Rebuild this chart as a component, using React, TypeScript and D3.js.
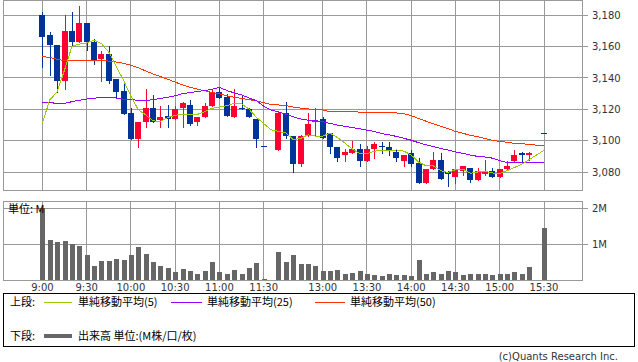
import React from "react";
import * as d3 from "d3";

const W = 638;
const H = 362;

// time slots: 9:00-11:30 (5 min), lunch gap, 12:30-15:30
const morningTimes: string[] = [];
for (let m = 9 * 60; m <= 11 * 60 + 30; m += 5) morningTimes.push(`${Math.floor(m / 60)}:${String(m % 60).padStart(2, "0")}`);
const afternoonTimes: string[] = [];
for (let m = 12 * 60 + 30; m <= 15 * 60 + 30; m += 5) afternoonTimes.push(`${Math.floor(m / 60)}:${String(m % 60).padStart(2, "0")}`);
const times: string[] = [...morningTimes, "", ...afternoonTimes];

const openP: (number | null)[] = [
  3180, 3167, 3161, 3138, 3170, 3163, 3175, 3163, 3152, 3155, 3139, 3132, 3118, 3101, 3112, 3121, 3113, 3116, 3114, 3121,
  3123, 3112, 3115, 3122, 3131, 3128, 3115, 3121, 3120, 3114, 3097, null, 3094, 3118, 3103, 3085, 3103, 3112, 3114, 3105,
  3096, 3091, 3092, 3095, 3087, 3095, 3097, 3096, 3093, 3087, 3092, 3086, 3073, 3082, 3088, 3080, 3077, 3081, 3083, 3075,
  3079, 3081, 3077, 3082, 3087, 3092, 3091, null, 3105,
];
const closeP: (number | null)[] = [
  3166, 3161, 3138, 3170, 3163, 3175, 3163, 3151, 3155, 3138, 3131, 3117, 3101, 3112, 3121, 3112, 3115, 3114, 3120, 3124,
  3111, 3115, 3122, 3131, 3127, 3116, 3122, 3120, 3115, 3101, 3097, null, 3118, 3103, 3085, 3103, 3111, 3113, 3102, 3096,
  3089, 3093, 3095, 3087, 3095, 3098, 3096, 3094, 3089, 3091, 3085, 3073, 3082, 3088, 3076, 3079, 3082, 3084, 3075, 3081,
  3081, 3077, 3082, 3084, 3091, 3091, 3092, null, 3105,
];
const highP: (number | null)[] = [
  3182, 3169, 3161, 3180, 3182, 3186, 3175, 3165, 3157, 3160, 3139, 3138, 3121, 3112, 3133, 3129, 3122, 3123, 3122, 3125,
  3126, 3115, 3124, 3133, 3134, 3130, 3133, 3129, 3121, 3114, 3097, null, 3119, 3125, 3103, 3104, 3118, 3121, 3115, 3105,
  3096, 3095, 3100, 3098, 3097, 3099, 3099, 3099, 3095, 3091, 3094, 3089, 3082, 3093, 3092, 3081, 3082, 3084, 3083, 3083,
  3088, 3083, 3082, 3087, 3094, 3093, 3093, null, 3105,
];
const lowP: (number | null)[] = [
  3147, 3142, 3131, 3133, 3161, 3163, 3158, 3149, 3138, 3137, 3127, 3117, 3101, 3096, 3109, 3112, 3109, 3109, 3114, 3109,
  3110, 3110, 3115, 3122, 3127, 3116, 3115, 3120, 3115, 3096, 3097, null, 3094, 3102, 3080, 3084, 3103, 3104, 3102, 3092,
  3087, 3087, 3092, 3084, 3087, 3089, 3092, 3091, 3087, 3084, 3084, 3073, 3073, 3082, 3076, 3071, 3073, 3078, 3074, 3075,
  3078, 3077, 3077, 3082, 3087, 3087, 3088, null, 3105,
];
// volume in millions
const volume: (number | null)[] = [
  2.02, 1.11, 1.06, 1.08, 1.0, 0.94, 0.69, 0.39, 0.53, 0.53, 0.58, 0.56, 0.69, 0.92, 0.72, 0.5, 0.39, 0.33, 0.22, 0.31,
  0.25, 0.17, 0.25, 0.5, 0.22, 0.17, 0.28, 0.17, 0.33, 0.47, 0.03, null, 0.78, 0.5, 0.69, 0.44, 0.44, 0.39, 0.25, 0.25,
  0.28, 0.17, 0.19, 0.25, 0.17, 0.14, 0.11, 0.17, 0.14, 0.14, 0.11, 0.56, 0.17, 0.22, 0.17, 0.25, 0.22, 0.14, 0.17, 0.17,
  0.17, 0.14, 0.17, 0.17, 0.22, 0.17, 0.36, null, 1.44,
];
const ma5: number[] = [
  3111.5, 3126, 3131.2, 3145, 3160, 3161.5, 3162.2, 3164, 3161.8, 3156.5, 3147.3, 3138.5, 3128.3, 3119.8, 3116.5, 3112.7,
  3112.3, 3114.8, 3116.3, 3116.9, 3116.8, 3116.8, 3118.5, 3120.7, 3121.4, 3122.4, 3123.8, 3123.5, 3120.2, 3115, 3111,
  3107, 3106, 3105, 3100.8, 3101.5, 3103.8, 3103, 3103, 3104.9, 3102.1, 3098.6, 3094.9, 3091.9, 3091.7, 3093.4, 3094,
  3093.8, 3094.2, 3093.5, 3091, 3086.5, 3084.2, 3084.1, 3081.1, 3079.9, 3081.7, 3082.1, 3079.4, 3080.2, 3080.6, 3079.6,
  3079.2, 3081.1, 3083.1, 3085.1, 3088.1, 3091, 3094,
];
const ma25: number[] = [
  3124.5, 3124.3, 3123.8, 3123.8, 3124.9, 3125.8, 3126.6, 3127, 3127.7, 3127.7, 3127.2, 3126.4, 3126.2, 3125.8, 3125.6,
  3126.2, 3127, 3127.7, 3128.6, 3130, 3130.7, 3131.3, 3132, 3132.8, 3134, 3132, 3130.5, 3129.2, 3127.3, 3125.5, 3122,
  3119.5, 3118.5, 3117, 3115.3, 3113.9, 3113.2, 3112.9, 3112.1, 3111.1, 3110, 3109.2, 3108.4, 3107.7, 3106.8, 3106,
  3104.6, 3103.8, 3102.8, 3101.6, 3100.4, 3098.8, 3097.5, 3096.3, 3095.2, 3094.1, 3093, 3092, 3091, 3090.1, 3089.7, 3089,
  3087.4, 3086.1, 3086.1, 3086.1, 3086.1, 3086.2, 3086.3,
];
const ma50: number[] = [
  3153.5, 3153.1, 3151.8, 3151, 3151, 3151.2, 3151.2, 3151.4, 3151.2, 3150.7, 3150.1, 3149.3, 3148, 3146.5, 3144.4,
  3142.5, 3140.8, 3139.2, 3137.3, 3135.6, 3134, 3132.9, 3131.8, 3130.8, 3129.8, 3128.7, 3127.7, 3127, 3126.2, 3125.5,
  3124.3, 3123, 3122.8, 3122.4, 3121.5, 3120.8, 3120.3, 3120, 3119.6, 3118.6, 3118.5, 3118.5, 3118.5, 3118.3, 3118.2,
  3118.2, 3118, 3118, 3117.7, 3117.3, 3116, 3114.2, 3112.5, 3110.8, 3109.2, 3107.7, 3106, 3104.8, 3103.5, 3102.6, 3101.5,
  3100.3, 3099.6, 3099.1, 3098.4, 3098.1, 3097.8, 3097.2, 3097.1,
];

const xTickLabels = ["9:00", "9:30", "10:00", "10:30", "11:00", "11:30", "13:00", "13:30", "14:00", "14:30", "15:00", "15:30"];
const priceTicks = [3080, 3100, 3120, 3140, 3160, 3180];
const volumeTicks = [1, 2];
const volumeTickLabels = ["1M", "2M"];

const UP = "#ff0033";
const DOWN = "#003399";
const C_MA5 = "#99cc00";
const C_MA25 = "#9900ff";
const C_MA50 = "#ff3300";
const GRID = "#999999";
const VOL = "#666666";
const NUM_FONT = "'DejaVu Sans', Verdana, sans-serif";
const JP_FONT = "'Noto Sans CJK JP', 'DejaVu Sans', sans-serif";

const plotL = 3.5;
const plotR = 582.5;
const topT = 0.5;
const topB = 190.5;
const volT = 201.5;
const volB = 280.5;

export default function App() {
  const x = d3.scaleLinear().domain([0, times.length - 1]).range([42.4, 544.0]);
  const y = d3.scaleLinear().domain([3080, 3180]).range([172.3, 15]);
  const yv = d3.scaleLinear().domain([0, 2]).range([280.3, 208.3]);
  const crisp = (v: number) => Math.floor(v) + 0.5;
  const fmt = d3.format(",");

  const idx = d3.range(times.length);
  const lineFor = (arr: number[]) =>
    d3
      .line<number>()
      .x((i) => x(i))
      .y((i) => y(arr[i]))(idx) || "";

  const gridXs = xTickLabels.map((t) => crisp(x(times.indexOf(t))));

  return (
    <svg
      width={W}
      height={H}
      style={{ position: "fixed", left: 0, top: 0, background: "#fff" }}
      xmlns="http://www.w3.org/2000/svg"
    >
      <rect x={0} y={0} width={W} height={H} fill="#fff" />
      {/* ===== price panel ===== */}
      <g shapeRendering="crispEdges">
        {priceTicks.map((p) => (
          <g key={p}>
            <line x1={plotL} x2={plotR} y1={crisp(y(p))} y2={crisp(y(p))} stroke={GRID} />
            <line x1={plotR} x2={plotR + 5} y1={crisp(y(p))} y2={crisp(y(p))} stroke={GRID} />
          </g>
        ))}
        {gridXs.map((gx, i) => (
          <line key={i} x1={gx} x2={gx} y1={topT} y2={topB} stroke={GRID} />
        ))}
        <rect x={plotL} y={topT} width={plotR - plotL} height={topB - topT} fill="none" stroke={GRID} />
      </g>
      {priceTicks.map((p) => (
        <text
          key={p}
          x={592}
          y={y(p)}
          dy="0.36em"
          fontFamily={NUM_FONT}
          fontSize={10}
          fill="#333"
        >
          {fmt(p)}
        </text>
      ))}
      <g shapeRendering="crispEdges">
        {idx.map((i) => {
          const o = openP[i];
          const c = closeP[i];
          const hi = highP[i];
          const lo = lowP[i];
          if (o == null || c == null || hi == null || lo == null) return null;
          const col = c > o ? UP : DOWN;
          const cx = Math.round(x(i));
          const yTop = Math.min(y(o), y(c));
          const yBot = Math.max(y(o), y(c));
          const bh = Math.max(1, Math.round(yBot) - Math.round(yTop));
          return (
            <g key={i}>
              <line x1={cx + 0.5} x2={cx + 0.5} y1={Math.round(y(hi))} y2={Math.round(y(lo)) + 1} stroke={col} />
              <rect x={cx - 3} y={Math.round(yTop)} width={6} height={bh} fill={col} />
            </g>
          );
        })}
      </g>
      <g fill="none" strokeWidth={1} shapeRendering="crispEdges">
        <path d={lineFor(ma50)} stroke={C_MA50} />
        <path d={lineFor(ma25)} stroke={C_MA25} />
        <path d={lineFor(ma5)} stroke={C_MA5} />
      </g>

      {/* ===== volume panel ===== */}
      <g shapeRendering="crispEdges">
        {volumeTicks.map((v) => (
          <g key={v}>
            <line x1={plotL} x2={plotR} y1={crisp(yv(v))} y2={crisp(yv(v))} stroke={GRID} />
            <line x1={plotR} x2={plotR + 5} y1={crisp(yv(v))} y2={crisp(yv(v))} stroke={GRID} />
          </g>
        ))}
        {gridXs.map((gx, i) => (
          <line key={i} x1={gx} x2={gx} y1={volT} y2={volB} stroke={GRID} />
        ))}
        {idx.map((i) => {
          const v = volume[i];
          if (v == null) return null;
          const cx = Math.round(x(i));
          const top = Math.round(yv(v));
          return <rect key={i} x={cx - 2} y={top} width={5} height={Math.max(0, 280 - top)} fill={VOL} />;
        })}
        <rect x={plotL} y={volT} width={plotR - plotL} height={volB - volT} fill="none" stroke={GRID} />
      </g>
      {volumeTicks.map((v, i) => (
        <text key={v} x={592} y={yv(v)} dy="0.36em" fontFamily={NUM_FONT} fontSize={10} fill="#333">
          {volumeTickLabels[i]}
        </text>
      ))}
      <text x={8} y={209} dy="0.36em" fontFamily={JP_FONT} fontSize={11} fill="#000">
        単位: M
      </text>
      {xTickLabels.map((t) => (
        <text
          key={t}
          x={x(times.indexOf(t))}
          y={287}
          dy="0.36em"
          textAnchor="middle"
          fontFamily={NUM_FONT}
          fontSize={10}
          fill="#333"
        >
          {t}
        </text>
      ))}

      {/* ===== legend ===== */}
      <rect x={3.5} y={293.5} width={631} height={53} fill="none" stroke="#000" shapeRendering="crispEdges" />
      <g fontFamily={JP_FONT} fontSize={11} fill="#000">
        <text x={10} y={302} dy="0.36em">上段:</text>
        <line x1={44} x2={72} y1={302.5} y2={302.5} stroke={C_MA5} shapeRendering="crispEdges" />
        <text x={78} y={302} dy="0.36em">単純移動平均(5)</text>
        <line x1={171} x2={202} y1={302.5} y2={302.5} stroke={C_MA25} shapeRendering="crispEdges" />
        <text x={207} y={302} dy="0.36em">単純移動平均(25)</text>
        <line x1={315} x2={345} y1={302.5} y2={302.5} stroke={C_MA50} shapeRendering="crispEdges" />
        <text x={350} y={302} dy="0.36em">単純移動平均(50)</text>
        <text x={10} y={336} dy="0.36em">下段:</text>
        <line x1={44} x2={72} y1={336} y2={336} stroke={VOL} strokeWidth={4} shapeRendering="crispEdges" />
        <text x={78} y={336} dy="0.36em">出来高 単位:(M株/口/枚)</text>
      </g>
      <text x={618} y={356} dy="0.36em" textAnchor="end" fontFamily={NUM_FONT} fontSize={10} fill="#333">
        (c)Quants Research Inc.
      </text>
    </svg>
  );
}
